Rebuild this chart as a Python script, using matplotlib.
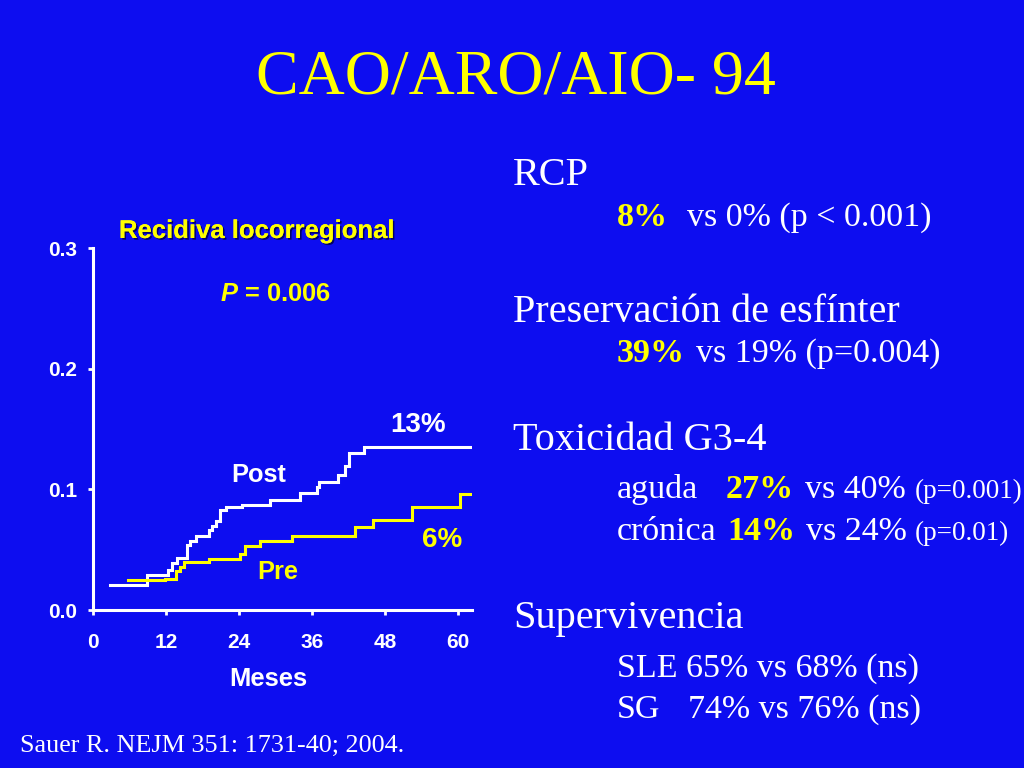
import matplotlib
matplotlib.use("Agg")
import matplotlib.pyplot as plt
import matplotlib.patheffects as pe

plt.rcParams["mathtext.fontset"] = "custom"
plt.rcParams["mathtext.it"] = "Liberation Sans:italic:bold"
plt.rcParams["mathtext.rm"] = "Liberation Sans:bold"

BG = "#0D0DF0"
YEL = "#FFFF00"
WHITE = "#FFFFFF"

# Data: cumulative local recurrence (step curves)
post_months = [2.8, 8.8, 12.4, 13.0, 13.8, 15.4, 16.0, 17.0, 19.0, 19.5, 20.2, 20.9, 21.8,
               24.5, 29.1, 34.0, 36.8, 37.2, 40.3, 41.5, 42.0, 44.5, 62.3]
post_values = [0.021, 0.029, 0.033, 0.039, 0.043, 0.054, 0.057, 0.061, 0.066, 0.070, 0.074,
               0.083, 0.085, 0.087, 0.091, 0.097, 0.102, 0.106, 0.112, 0.119, 0.130, 0.135, 0.135]
pre_months = [5.8, 11.8, 13.7, 14.3, 15.0, 19.0, 24.2, 25.0, 27.5, 32.7, 43.1, 46.1, 52.4, 60.4, 62.3]
pre_values = [0.025, 0.026, 0.032, 0.036, 0.040, 0.042, 0.046, 0.053, 0.057, 0.061, 0.069,
              0.075, 0.085, 0.096, 0.096]
x_ticks = [0, 12, 24, 36, 48, 60]
y_ticks = [0.0, 0.1, 0.2, 0.3]
y_tick_labels = ["0.0", "0.1", "0.2", "0.3"]

W, H = 1024, 768
fig = plt.figure(figsize=(W / 100, H / 100), dpi=100, facecolor=BG)

def fx(x):
    return x / W

def fy(y):
    return 1 - y / H

SANS = ["Liberation Sans", "DejaVu Sans"]
SERIF = ["Liberation Serif", "DejaVu Serif"]

# Axes
ax = fig.add_axes([fx(93), fy(610), fx(472) - fx(93), fy(248) - fy(610)])
ax.set_facecolor(BG)
ax.step(post_months, post_values, where="post", color=WHITE, lw=2.2, solid_joinstyle="miter")
ax.step(pre_months, pre_values, where="post", color=YEL, lw=2.2, solid_joinstyle="miter")
ax.set_xlim(0, 62.3)
ax.set_ylim(0, 0.3)
ax.set_xticks(x_ticks)
ax.set_xticklabels([str(t) for t in x_ticks])
ax.set_yticks(y_ticks)
ax.set_yticklabels(y_tick_labels)
for s in ["top", "right"]:
    ax.spines[s].set_visible(False)
for s in ["left", "bottom"]:
    ax.spines[s].set_color(WHITE)
    ax.spines[s].set_linewidth(2.2)
ax.tick_params(colors=WHITE, width=2, length=3.5, labelsize=15)
ax.tick_params(axis="x", pad=13)
ax.tick_params(axis="y", pad=8)
for lab in ax.get_xticklabels() + ax.get_yticklabels():
    lab.set_fontfamily(SANS)
    lab.set_fontweight("bold")
    lab.set_color(WHITE)

shadow = [pe.withSimplePatchShadow(offset=(1.2, -1.2), shadow_rgbFace="#000044", alpha=0.8), pe.Normal()]

fig.text(fx(257), fy(238), "Recidiva locorregional", color=YEL, fontsize=18.5, fontweight="bold",
         family=SANS, ha="center", va="baseline", path_effects=shadow)
fig.text(fx(275), fy(301), r"$P$ = 0.006", color=YEL, fontsize=18.4, fontweight="bold",
         family=SANS, ha="center", va="baseline")
fig.text(fx(258.5), fy(482), "Post", color=WHITE, fontsize=18.3, fontweight="bold",
         family=SANS, ha="center", va="baseline")
fig.text(fx(277.5), fy(579), "Pre", color=YEL, fontsize=18.3, fontweight="bold",
         family=SANS, ha="center", va="baseline")
fig.text(fx(418), fy(432), "13%", color=WHITE, fontsize=20, fontweight="bold",
         family=SANS, ha="center", va="baseline")
fig.text(fx(442), fy(547), "6%", color=YEL, fontsize=20, fontweight="bold",
         family=SANS, ha="center", va="baseline")
fig.text(fx(268), fy(686), "Meses", color=WHITE, fontsize=18.4, fontweight="bold",
         family=SANS, ha="center", va="baseline")

# Title
fig.text(fx(516), fy(93), "CAO/ARO/AIO- 94", color=YEL, fontsize=46, family=SERIF,
         ha="center", va="baseline")

# Right column
def t(x, y, s, size, color=WHITE, bold=False):
    fig.text(fx(x), fy(y), s, color=color, fontsize=size, family=SERIF,
             fontweight="bold" if bold else "normal", ha="left", va="baseline")

HS = 29
SS = 24.5
PS = 19.5
t(513, 185, "RCP", HS)
t(617, 226, "8%", SS, YEL, True)
t(687, 226, "vs 0% (p < 0.001)", SS)

t(513, 322, "Preservación de esfínter", HS)
t(617, 362, "39%", SS, YEL, True)
t(696, 362, "vs 19% (p=0.004)", SS)

t(513, 450, "Toxicidad G3-4", HS)
t(617, 498, "aguda", SS)
t(726, 498, "27%", SS, YEL, True)
t(805, 498, "vs 40%", SS)
t(915, 498, "(p=0.001)", PS)
t(617, 540, "crónica", SS)
t(727, 540, "14%", SS, YEL, True)
t(806, 540, "vs 24%", SS)
t(915, 540, "(p=0.01)", PS)

t(513, 628, "Supervivencia", HS)
t(617, 677, "SLE 65% vs 68% (ns)", SS)
t(617, 718, "SG", SS)
t(688, 718, "74% vs 76% (ns)", SS)

# Footer
fig.text(fx(20), fy(752), "Sauer R. NEJM 351: 1731-40; 2004.", color=WHITE, fontsize=18.8,
         family=SERIF, ha="left", va="baseline")

fig.savefig("out.png", dpi=100, facecolor=BG)
